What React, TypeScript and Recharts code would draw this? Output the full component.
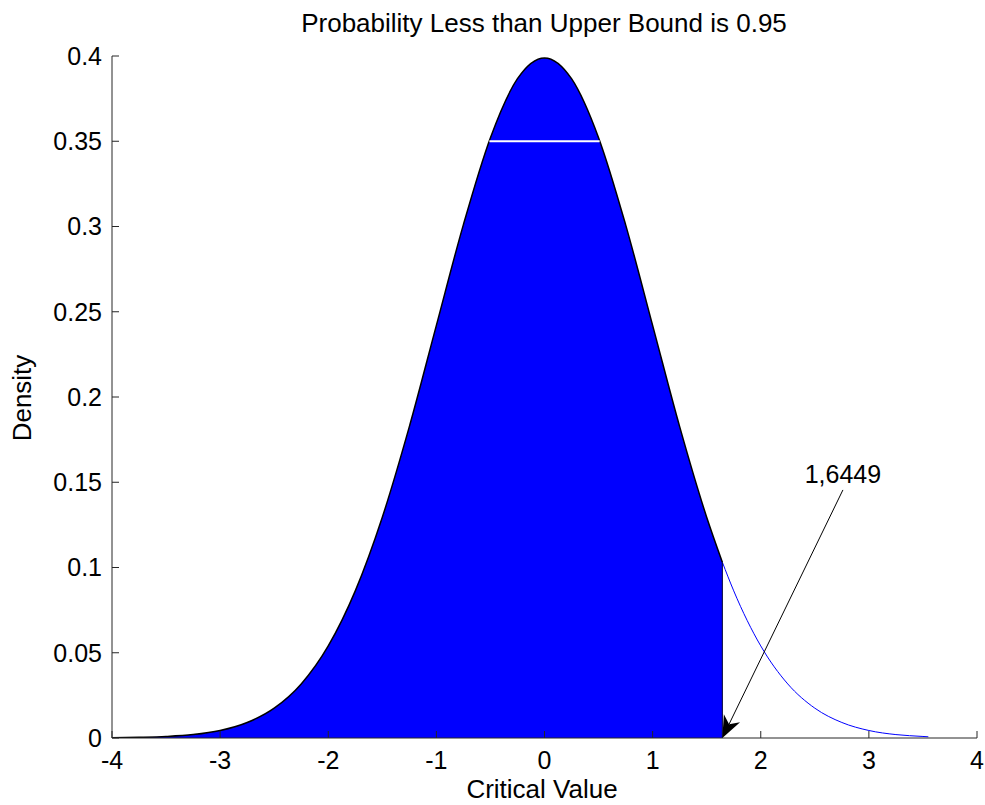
import React from 'react'
import {
  ComposedChart,
  Area,
  Line,
  XAxis,
  YAxis,
  ReferenceLine,
  ReferenceDot,
} from 'recharts'

// Shaded part of the standard normal density, up to the critical value
const shadedX = [
  -4, -3.75, -3.5, -3.25, -3, -2.75, -2.5, -2.25, -2, -1.75, -1.5, -1.25, -1,
  -0.75, -0.5, -0.25, 0, 0.25, 0.5, 0.75, 1, 1.25, 1.5, 1.6449,
]
const shadedDensity = [
  0.0001, 0.0004, 0.0009, 0.002, 0.0044, 0.0091, 0.0175, 0.0317, 0.054, 0.0863,
  0.1295, 0.1826, 0.242, 0.3011, 0.3521, 0.3867, 0.3989, 0.3867, 0.3521,
  0.3011, 0.242, 0.1826, 0.1295, 0.1031,
]

// Unshaded upper tail
const tailX = [1.6449, 1.75, 2, 2.25, 2.5, 2.75, 3, 3.25, 3.5, 3.55]
const tailDensity = [
  0.1031, 0.0863, 0.054, 0.0317, 0.0175, 0.0091, 0.0044, 0.002, 0.0009, 0.0007,
]

const xTicks = [-4, -3, -2, -1, 0, 1, 2, 3, 4]
const yTicks = [0, 0.05, 0.1, 0.15, 0.2, 0.25, 0.3, 0.35, 0.4]

const criticalValue = 1.6449
const criticalLabel = '1,6449'
const labelPoint = { x: 2.76, y: 0.155 }
const arrowStart = { x: 2.76, y: 0.1455 }

type Row = { x: number; shaded?: number; tail?: number }

const rows: Row[] = (() => {
  const map = new Map<number, Row>()
  shadedX.forEach((x, i) => map.set(x, { x, shaded: shadedDensity[i] }))
  tailX.forEach((x, i) => {
    const r = map.get(x) ?? { x }
    r.tail = tailDensity[i]
    map.set(x, r)
  })
  return Array.from(map.values()).sort((a, b) => a.x - b.x)
})()

const FONT = '"Liberation Sans", Arial, Helvetica, sans-serif'
const FS = 25
const AXIS = '#262626'

const Arrow = (props: any) => {
  const { x1, y1, x2, y2 } = props
  const dx = x2 - x1
  const dy = y2 - y1
  const len = Math.sqrt(dx * dx + dy * dy)
  const ux = dx / len
  const uy = dy / len
  const L = 22
  const W = 9
  const bx = x2 - ux * L
  const by = y2 - uy * L
  const nx = x2 - ux * L * 0.7
  const ny = y2 - uy * L * 0.7
  const pts = [
    [x2, y2],
    [bx - uy * W, by + ux * W],
    [nx, ny],
    [bx + uy * W, by - ux * W],
  ]
  return (
    <g>
      <line x1={x1} y1={y1} x2={nx} y2={ny} stroke="#000" strokeWidth={1} />
      <polygon points={pts.map((p) => p.join(',')).join(' ')} fill="#000" />
    </g>
  )
}

export default function App() {
  return (
    <div
      style={{
        position: 'absolute',
        left: 0,
        top: 0,
        width: 985,
        height: 805,
        background: '#fff',
        fontFamily: FONT,
        overflow: 'hidden',
      }}
    >
      <ComposedChart
        width={985}
        height={805}
        data={rows}
        margin={{ top: 56, right: 8, bottom: 0, left: 0 }}
      >
        <XAxis
          dataKey="x"
          type="number"
          domain={[-4, 4]}
          ticks={xTicks}
          allowDataOverflow
          height={67}
          tickSize={-7}
          tickMargin={20}
          stroke={AXIS}
          tick={{ fill: '#000', fontSize: FS, fontFamily: FONT }}
        />
        <YAxis
          type="number"
          domain={[0, 0.4]}
          ticks={yTicks}
          allowDataOverflow
          width={112}
          tickSize={-7}
          tickMargin={17}
          stroke={AXIS}
          tick={{ fill: '#000', fontSize: FS, fontFamily: FONT }}
        />
        <Area
          dataKey="shaded"
          type="monotone"
          stroke="#000"
          strokeWidth={1.5}
          fill="#0000ff"
          fillOpacity={1}
          isAnimationActive={false}
          dot={false}
          activeDot={false}
        />
        <Line
          dataKey="tail"
          type="monotone"
          stroke="#0000ff"
          strokeWidth={1}
          dot={false}
          activeDot={false}
          isAnimationActive={false}
        />
        <ReferenceLine
          segment={[
            { x: criticalValue, y: 0 },
            { x: criticalValue, y: tailDensity[0] },
          ]}
          stroke="#000033"
          strokeWidth={1}
        />
        <ReferenceLine
          segment={[
            { x: -0.51, y: 0.35 },
            { x: 0.51, y: 0.35 },
          ]}
          stroke="#fff"
          strokeWidth={2}
        />
        <ReferenceLine
          segment={[
            { x: arrowStart.x, y: arrowStart.y },
            { x: criticalValue, y: 0 },
          ]}
          shape={Arrow}
        />
        <ReferenceDot
          x={labelPoint.x}
          y={labelPoint.y}
          r={0}
          fill="none"
          stroke="none"
          label={{
            value: criticalLabel,
            position: 'center',
            fill: '#000',
            fontSize: FS,
            fontFamily: FONT,
          }}
        />
      </ComposedChart>
      <div
        style={{
          position: 'absolute',
          left: 544,
          top: 23,
          transform: 'translate(-50%, -50%)',
          fontSize: 26,
          lineHeight: 1,
          whiteSpace: 'nowrap',
        }}
      >
        Probability Less than Upper Bound is 0.95
      </div>
      <div
        style={{
          position: 'absolute',
          left: 22,
          top: 398,
          transform: 'translate(-50%, -50%) rotate(-90deg)',
          fontSize: 26,
          lineHeight: 1,
          whiteSpace: 'nowrap',
        }}
      >
        Density
      </div>
      <div
        style={{
          position: 'absolute',
          left: 542,
          top: 789,
          transform: 'translate(-50%, -50%)',
          fontSize: 26,
          lineHeight: 1,
          whiteSpace: 'nowrap',
        }}
      >
        Critical Value
      </div>
    </div>
  )
}
